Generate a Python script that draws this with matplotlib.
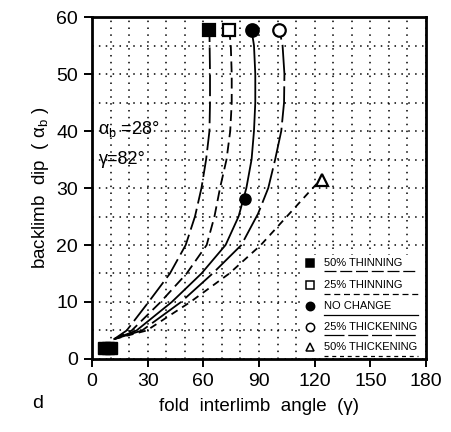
import matplotlib
matplotlib.use("Agg")
import matplotlib.pyplot as plt
import matplotlib.patches as mpatches
from matplotlib.ticker import MultipleLocator

plt.rcParams["font.family"] = ["Liberation Sans", "DejaVu Sans"]
plt.rcParams["mathtext.fontset"] = "custom"
plt.rcParams["mathtext.rm"] = "Liberation Sans"
plt.rcParams["mathtext.it"] = "Liberation Sans"

THIN50_X = [12, 18.7, 30.5, 42, 50.5, 55.5, 59, 61.5, 63.3, 63.6, 63.6, 63.4, 63.3]
THIN50_Y = [3.5, 5, 10, 15, 20, 25, 30, 35, 40, 45, 50, 55, 57.7]
THIN25_X = [12, 21.4, 37, 51, 61.8, 66, 69, 72.5, 74.5, 75.3, 75.3, 74.8, 74]
THIN25_Y = [3.5, 5, 10, 15, 20, 25, 30, 35, 40, 45, 50, 55, 57.7]
NOCHG_X = [12, 24, 43, 59, 72, 79, 83.2, 86, 87.3, 88, 88, 87.3, 86]
NOCHG_Y = [3.5, 5, 10, 15, 20, 25, 30, 35, 40, 45, 50, 55, 57.7]
THICK25_X = [12, 27, 48, 65, 80.5, 89.5, 95, 98.7, 102, 103.5, 103.7, 102.7, 101]
THICK25_Y = [3.5, 5, 10, 15, 20, 25.5, 30, 35, 40, 45, 50, 55, 57.7]
THICK50_X = [12, 29.5, 53, 74, 91, 105, 117, 121]
THICK50_Y = [3.5, 5, 10, 15, 20, 25, 29.3, 30.7]

START_X = [6.5, 8.5, 10.5]
START_Y = [2, 2, 2]
MID_NOCHG = (82.5, 28)
END_TRI = (124, 31.4)

LABELS = ["50% THINNING", "25% THINNING", "NO CHANGE", "25% THICKENING", "50% THICKENING"]
DASHES = [(12, 3), (6, 3), None, (20, 3), (4, 3)]
MARKERS = [("s", "k"), ("s", "w"), ("o", "k"), ("o", "w"), ("^", "w")]

fig = plt.figure(figsize=(4.52, 4.32), dpi=100)
ax = fig.add_axes([0.2035, 0.169, 0.739, 0.7916])

curves = [(THIN50_X, THIN50_Y), (THIN25_X, THIN25_Y), (NOCHG_X, NOCHG_Y),
          (THICK25_X, THICK25_Y), (THICK50_X, THICK50_Y)]
for (xs, ys), d in zip(curves, DASHES):
    line, = ax.plot(xs, ys, color="k", lw=1.3, zorder=3)
    if d is not None:
        line.set_dashes(d)

# end markers at top
for (xs, ys), (m, fc) in zip(curves[:4], MARKERS[:4]):
    ax.plot(xs[-1], ys[-1], marker=m, ms=9, mfc=fc, mec="k", mew=1.6, zorder=4)
ax.plot(*MID_NOCHG, marker="o", ms=8, mfc="k", mec="k", zorder=4)
ax.plot(*END_TRI, marker="^", ms=9, mfc="w", mec="k", mew=1.6, zorder=4)
ax.plot(START_X, START_Y, ls="none", marker="s", ms=9, mfc="k", mec="k", zorder=4)

ax.set_xlim(0, 180)
ax.set_ylim(0, 60)
ax.xaxis.set_major_locator(MultipleLocator(30))
ax.yaxis.set_major_locator(MultipleLocator(10))
ax.xaxis.set_minor_locator(MultipleLocator(10))
ax.yaxis.set_minor_locator(MultipleLocator(5))
ax.grid(which="both", color="k", linestyle=(0, (1, 3.5)), linewidth=1.1)
ax.tick_params(which="major", direction="out", length=6, width=1.4, labelsize=14, pad=4)
ax.tick_params(which="minor", length=0)
for s in ax.spines.values():
    s.set_linewidth(2.0)

ax.set_xlabel("fold  interlimb  angle  (\u03b3)", fontsize=13.5, labelpad=6)
ax.set_ylabel(r"backlimb  dip  ( $\alpha_\mathrm{b}$ )", fontsize=13.5, labelpad=4)

ax.text(3.5, 40.3, r"$\alpha_\mathrm{b}$" + " =28\u00b0", fontsize=13, va="center", ha="left")
ax.text(3.5, 35, "\u03b3=82\u00b0", fontsize=13, va="center", ha="left")
fig.text(0.07, 0.055, "d", fontsize=14)

# hand-drawn legend on a blanked patch
ax.add_patch(mpatches.Rectangle((0.633, 0.004), 0.36, 0.3, transform=ax.transAxes,
                                facecolor="white", edgecolor="none", zorder=2))
row_y = [0.281, 0.216, 0.155, 0.094, 0.035]
for yy, lab, d, (m, fc) in zip(row_y, LABELS, DASHES, MARKERS):
    ax.plot(0.653, yy, transform=ax.transAxes, marker=m, ms=6, mfc=fc, mec="k",
            mew=1.1, clip_on=False, zorder=6)
    ax.text(0.695, yy, lab, transform=ax.transAxes, fontsize=8, va="center",
            ha="left", zorder=6)
    ul, = ax.plot([0.695, 0.976], [yy - 0.025, yy - 0.025], transform=ax.transAxes,
                  color="k", lw=0.9, zorder=6)
    if d is not None:
        ul.set_dashes((d[0] * 0.8, d[1]))

fig.savefig("out.png", dpi=100)
